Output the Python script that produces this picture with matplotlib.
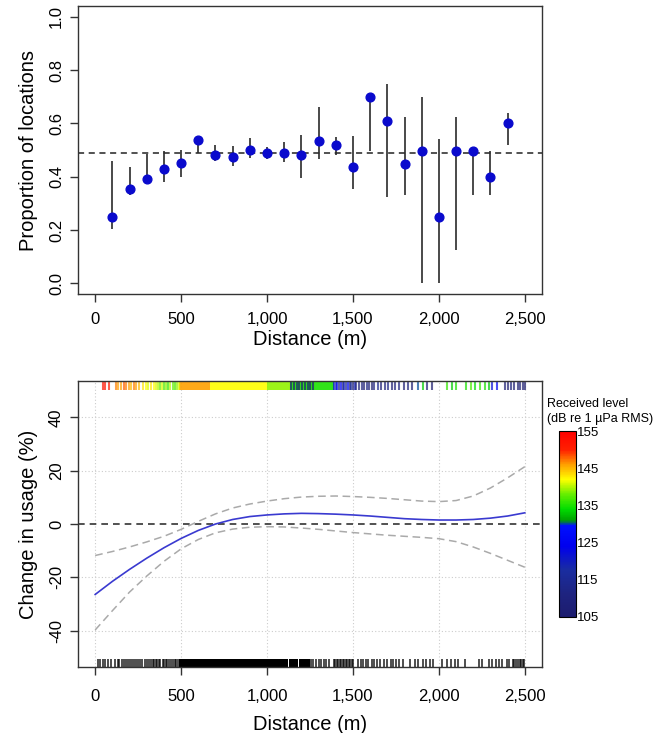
"""Proportion of locations and change in usage against distance."""
import matplotlib
matplotlib.use("Agg")
import matplotlib.pyplot as plt
import numpy as np
from matplotlib.colors import LinearSegmentedColormap, Normalize
from matplotlib.cm import ScalarMappable
from matplotlib.ticker import FuncFormatter

plt.rcParams["font.family"] = ["Liberation Sans", "DejaVu Sans"]

# top panel: binned proportions with intervals
BIN_DIST = [100, 200, 300, 400, 500, 600, 700, 800, 900, 1000, 1100, 1200,
            1300, 1400, 1500, 1600, 1700, 1800, 1900, 2000, 2100, 2200, 2300, 2400]
PROP = [0.248, 0.355, 0.393, 0.428, 0.453, 0.538, 0.480, 0.472, 0.500, 0.487, 0.490, 0.482,
        0.535, 0.517, 0.436, 0.698, 0.609, 0.448, 0.498, 0.248, 0.498, 0.498, 0.398, 0.603]
PROP_LO = [0.205, 0.330, 0.375, 0.380, 0.400, 0.490, 0.460, 0.440, 0.470, 0.465, 0.455, 0.395,
           0.465, 0.483, 0.355, 0.498, 0.323, 0.332, 0.000, 0.000, 0.124, 0.332, 0.332, 0.517]
PROP_HI = [0.460, 0.435, 0.485, 0.495, 0.500, 0.540, 0.520, 0.515, 0.545, 0.510, 0.530, 0.555,
           0.660, 0.550, 0.552, 0.700, 0.748, 0.623, 0.698, 0.542, 0.623, 0.500, 0.498, 0.639]
MEAN_PROP = 0.489

# bottom panel: smooth fit and confidence band
FIT_DIST = [0, 100, 200, 300, 400, 500, 600, 700, 800, 900, 1000, 1100, 1200,
            1300, 1400, 1500, 1600, 1700, 1800, 1900, 2000, 2100, 2200, 2300, 2400, 2500]
FIT = [-26.4, -21.5, -17.0, -12.8, -8.9, -5.4, -2.4, 0.0, 1.7, 2.8, 3.4, 3.8, 4.0,
       3.9, 3.7, 3.4, 3.0, 2.5, 2.0, 1.7, 1.5, 1.5, 1.7, 2.2, 3.0, 4.2]
FIT_UP = [-11.8, -10.3, -8.6, -6.7, -4.6, -2.0, 1.0, 3.8, 6.0, 7.5, 8.6, 9.5, 10.1,
          10.4, 10.5, 10.3, 10.0, 9.6, 9.1, 8.6, 8.4, 8.8, 10.5, 13.5, 17.3, 21.5]
FIT_LO = [-39.7, -32.5, -25.5, -19.5, -14.0, -9.3, -5.8, -3.3, -1.9, -1.2, -1.0, -1.1, -1.5,
          -2.0, -2.6, -3.2, -3.7, -4.2, -4.6, -5.0, -5.5, -6.6, -8.6, -11.0, -13.6, -16.2]

# rug of location distances (bottom) - sparse ticks plus dense ranges
RUG_DIST = [15, 28, 45, 60, 75, 92,
            115, 130, 140, 158, 170, 180, 192, 205, 215, 228, 240, 252, 262, 275, 290, 300, 312, 322,
            335, 345, 352, 362, 372, 380, 392, 400, 410, 420, 432, 440, 452, 462, 470, 480,
            1258, 1270, 1285, 1300, 1312, 1330, 1345, 1360,
            1390, 1398, 1405, 1415, 1425, 1432, 1440, 1450, 1458, 1465, 1475, 1485, 1495, 1502,
            1530, 1545, 1560, 1575, 1590, 1610, 1625, 1640, 1660, 1680, 1700, 1720, 1735, 1750, 1770, 1790,
            1830, 1860, 1880, 1905, 1925, 1950, 1965,
            2020, 2045, 2070, 2095, 2110, 2150,
            2235, 2250, 2290, 2310, 2330, 2350, 2370, 2395, 2410,
            2430, 2440, 2450, 2460, 2470, 2480, 2490, 2498]
RUG_DENSE_START = [488, 1130, 1188]
RUG_DENSE_END = [1120, 1178, 1250]

# rug coloured by received level (top)
RL_DIST = [45, 55, 80,
           120, 135, 150, 165, 180, 195, 210, 225, 240, 255,
           280, 295, 310, 325, 340, 355,
           365, 378, 390, 400, 412, 425, 438, 450, 462, 475, 485,
           1140, 1156, 1172, 1188, 1204, 1220, 1236, 1252, 1268,
           1390, 1400, 1410, 1420, 1430, 1440, 1450, 1460, 1470, 1480, 1490, 1500, 1510, 1520,
           1535, 1550, 1565, 1580, 1595, 1610, 1625, 1645, 1665, 1685, 1705, 1725, 1745, 1770, 1795, 1820, 1845,
           1880, 1905, 1930, 1960,
           2050, 2075, 2100, 2160, 2185, 2210, 2240, 2270, 2290, 2310, 2340,
           2385, 2400, 2420, 2440, 2460, 2475, 2490, 2500]
RL_LEVEL = [152, 152, 151,
            147, 146, 146, 148, 147, 146, 145, 147, 146, 145,
            143, 142, 141, 143, 142, 141,
            140, 138, 141, 137, 139, 136, 140, 138, 137, 139, 141,
            108, 107, 109, 106, 108, 107, 109, 106, 108,
            122, 118, 126, 112, 124, 110, 120, 114, 125, 110, 116, 108, 120, 110,
            108, 110, 106, 112, 108, 105, 110, 114, 107, 109, 112, 106, 108, 110, 107, 109, 106,
            130, 133, 107, 105,
            136, 133, 135, 135, 137, 134, 136, 135, 133, 122, 125,
            107, 105, 108, 106, 105, 107, 106, 105]
RL_BLOCK_START = [490, 667, 1000, 1135, 1270]
RL_BLOCK_END = [667, 1000, 1135, 1270, 1387]
RL_BLOCK_LEVEL = [146, 142, 139, 135, 135]

RL_TICKS = [105, 115, 125, 135, 145, 155]

RL_CMAP = LinearSegmentedColormap.from_list("rl", [
    (0.0, "#1c1c6e"), (0.12, "#1e237f"), (0.25, "#1a2da0"), (0.38, "#0000ee"),
    (0.49, "#0010ff"), (0.52, "#00a000"), (0.58, "#00dd00"), (0.66, "#66ee00"),
    (0.74, "#ffff00"), (0.82, "#ffa000"), (0.9, "#ff2000"), (1.0, "#ff0000")])
RL_NORM = Normalize(vmin=105, vmax=155)

SPINE = "#333333"


def _style(ax, yticks, yfmt, pad, labelpad):
    ax.set_xlim(-100, 2600)
    ax.set_xticks([0, 500, 1000, 1500, 2000, 2500])
    ax.xaxis.set_major_formatter(FuncFormatter(lambda v, _: f"{int(v):,}"))
    ax.set_yticks(yticks)
    ax.yaxis.set_major_formatter(FuncFormatter(yfmt))
    ax.tick_params(direction="out", length=6, width=1.0, color=SPINE, labelsize=12)
    ax.tick_params(axis="x", pad=pad)
    ax.tick_params(axis="y", pad=4)
    for lab in ax.get_yticklabels():
        lab.set_rotation(90)
        lab.set_va("center")
    for s in ax.spines.values():
        s.set_color(SPINE)
        s.set_linewidth(1.0)
    ax.set_xlabel("Distance (m)", fontsize=14.5, labelpad=labelpad)


fig = plt.figure(figsize=(6.65, 7.33), dpi=100)
ax1 = fig.add_axes([0.1173, 0.5989, 0.6977, 0.3929])
ax2 = fig.add_axes([0.1173, 0.0900, 0.6977, 0.3902])
cax = fig.add_axes([0.8406, 0.1583, 0.0256, 0.2537])

# top panel
ax1.axhline(MEAN_PROP, color="#222222", lw=1.1, ls=(0, (4, 3)), zorder=1)
ax1.vlines(BIN_DIST, PROP_LO, PROP_HI, color="#2a2a2a", lw=1.2, zorder=2)
ax1.plot(BIN_DIST, PROP, "o", color="#0a0acd", ms=6.3, zorder=3)
ax1.set_ylim(-0.04, 1.04)
_style(ax1, [0.0, 0.2, 0.4, 0.6, 0.8, 1.0], lambda v, _: f"{v:.1f}", pad=7, labelpad=2)
ax1.set_ylabel("Proportion of locations", fontsize=14.5, labelpad=8)

# bottom panel
for xv in [0, 500, 1000, 1500, 2000, 2500]:
    ax2.axvline(xv, color="#cccccc", lw=0.8, ls=(0, (1, 2)), zorder=0)
for yv in [-40, -20, 20, 40]:
    ax2.axhline(yv, color="#cccccc", lw=0.8, ls=(0, (1, 2)), zorder=0)
ax2.axhline(0, color="#333333", lw=1.2, ls=(0, (4, 3)), zorder=1)
ax2.plot(FIT_DIST, FIT_UP, color="#aaaaaa", lw=1.1, ls=(0, (5, 3)), zorder=2)
ax2.plot(FIT_DIST, FIT_LO, color="#aaaaaa", lw=1.1, ls=(0, (5, 3)), zorder=2)
ax2.plot(FIT_DIST, FIT, color="#3a3ad0", lw=1.2, zorder=3)

xt = ax2.get_xaxis_transform()
ax2.vlines(RUG_DIST, 0, 0.027, transform=xt, color="black", lw=1.3, alpha=0.75)
for a, b in zip(RUG_DENSE_START, RUG_DENSE_END):
    ax2.axvspan(a, b, ymin=0, ymax=0.027, color="black", lw=0)
for a, b, lv in zip(RL_BLOCK_START, RL_BLOCK_END, RL_BLOCK_LEVEL):
    ax2.axvspan(a, b, ymin=0.97, ymax=1.0, color=RL_CMAP(RL_NORM(lv)), lw=0, alpha=0.9)
rl_colors = RL_CMAP(RL_NORM(np.array(RL_LEVEL)))
ax2.vlines(RL_DIST, 0.97, 1.0, transform=xt, colors=rl_colors, lw=1.5, alpha=0.7)

ax2.set_ylim(-53.6, 53.6)
_style(ax2, [-40, -20, 0, 20, 40], lambda v, _: f"{int(v)}", pad=10, labelpad=8)
ax2.set_ylabel("Change in usage (%)", fontsize=14.5, labelpad=8)

# colour key
cb = fig.colorbar(ScalarMappable(norm=RL_NORM, cmap=RL_CMAP), cax=cax, ticks=RL_TICKS)
cb.outline.set_edgecolor("black")
cb.outline.set_linewidth(0.8)
cax.tick_params(length=0, labelsize=9.5, pad=1)
fig.text(0.8225, 0.439, "Received level\n(dB re 1 µPa RMS)", fontsize=9, ha="left", va="center",
         linespacing=1.3)

fig.savefig("out.png", dpi=100)
